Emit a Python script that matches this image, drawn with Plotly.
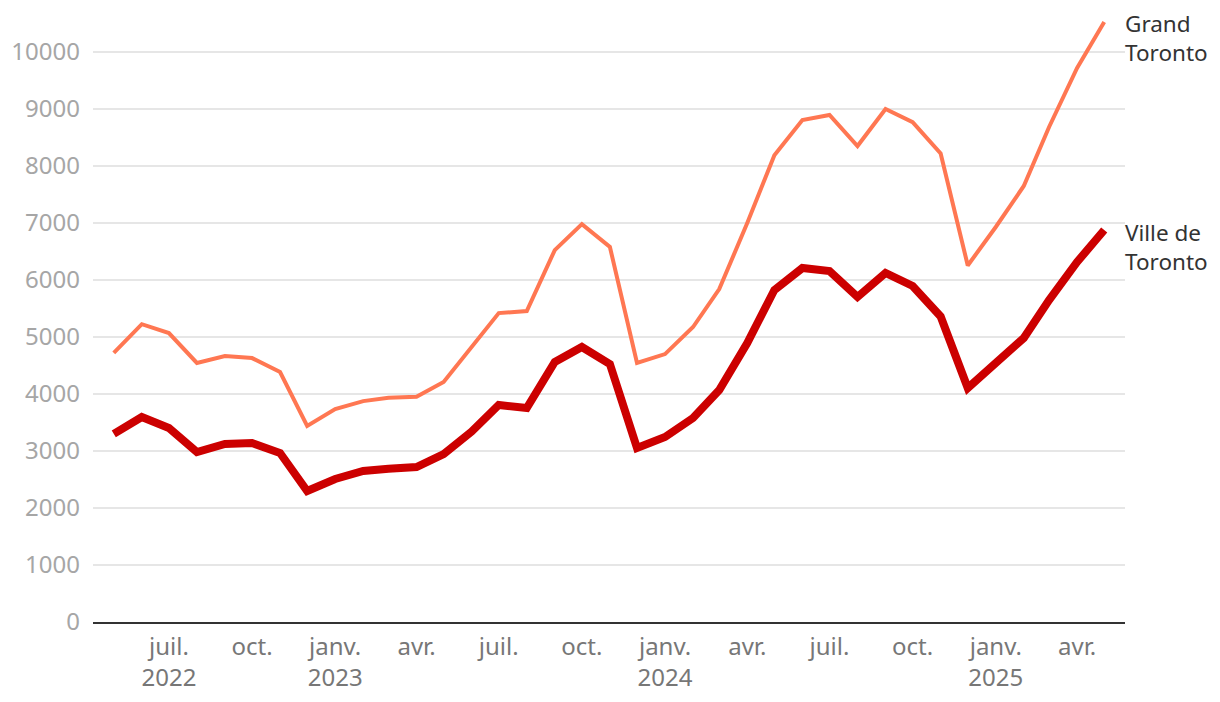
import plotly.graph_objects as go

months = [f"{y}-{m:02d}-01" for y, m in
          [(2022, m) for m in range(5, 13)] +
          [(2023, m) for m in range(1, 13)] +
          [(2024, m) for m in range(1, 13)] +
          [(2025, m) for m in range(1, 6)]]

grand_toronto = [4720, 5225, 5070, 4545, 4665, 4630, 4385, 3440,
                 3735, 3875, 3935, 3950, 4210, 4830, 5420, 5455, 6525, 6980, 6580, 4545,
                 4700, 5175, 5840, 7000, 8190, 8805, 8895, 8350, 9000, 8770, 8220, 6255,
                 6930, 7650, 8685, 9720, 10525]

ville_toronto = [3300, 3596, 3403, 2982, 3123, 3140, 2965, 2298,
                 2509, 2649, 2690, 2719, 2947, 3340, 3807, 3754, 4561, 4825, 4526, 3053,
                 3246, 3579, 4070, 4895, 5825, 6211, 6158, 5702, 6123, 5895, 5360, 4105,
                 4544, 4982, 5649, 6316, 6877]

tick_dates = ["2022-07-01", "2022-10-01", "2023-01-01", "2023-04-01", "2023-07-01",
              "2023-10-01", "2024-01-01", "2024-04-01", "2024-07-01", "2024-10-01",
              "2025-01-01", "2025-04-01"]
tick_text = ["juil.<br>2022", "oct.", "janv.<br>2023", "avr.", "juil.", "oct.",
             "janv.<br>2024", "avr.", "juil.", "oct.", "janv.<br>2025", "avr."]
y_ticks = list(range(0, 10001, 1000))
y_tick_text = [str(v) for v in y_ticks]

FONT = "Noto Sans"

fig = go.Figure()
fig.add_trace(go.Scatter(x=months, y=grand_toronto, mode="lines",
                         line=dict(color="#ff7752", width=4), name="Grand Toronto"))
fig.add_trace(go.Scatter(x=months, y=ville_toronto, mode="lines",
                         line=dict(color="#cc0000", width=8), name="Ville de Toronto"))

fig.add_annotation(x=months[-1], y=grand_toronto[-1], text="Grand<br>Toronto",
                   xanchor="left", yanchor="top", align="left", showarrow=False,
                   xshift=19, yshift=16, font=dict(family=FONT, size=22.5, color="#333333"))
fig.add_annotation(x=months[-1], y=ville_toronto[-1], text="Ville de<br>Toronto",
                   xanchor="left", yanchor="top", align="left", showarrow=False,
                   xshift=19, yshift=15, font=dict(family=FONT, size=22.5, color="#333333"))

fig.update_layout(
    width=1212, height=694, autosize=False,
    margin=dict(l=85, r=95, t=2, b=80),
    paper_bgcolor="white", plot_bgcolor="white",
    showlegend=False,
    font=dict(family=FONT),
)
fig.update_xaxes(
    range=["2022-04-08", "2025-05-24"],
    tickvals=tick_dates, ticktext=tick_text,
    showgrid=False, showline=True, linecolor="#333333", linewidth=2,
    ticks="", ticklabelstandoff=2,
    tickfont=dict(family=FONT, size=24, color="#777777"),
    zeroline=False,
)
fig.update_yaxes(
    range=[0, 10737], tickvals=y_ticks, ticktext=y_tick_text,
    showgrid=True, gridcolor="#e6e6e6", gridwidth=2,
    showline=False, zeroline=False, ticks="", ticklabelstandoff=12,
    tickfont=dict(family=FONT, size=24, color="#a6a6a6"),
)

fig.write_html("out.html")
